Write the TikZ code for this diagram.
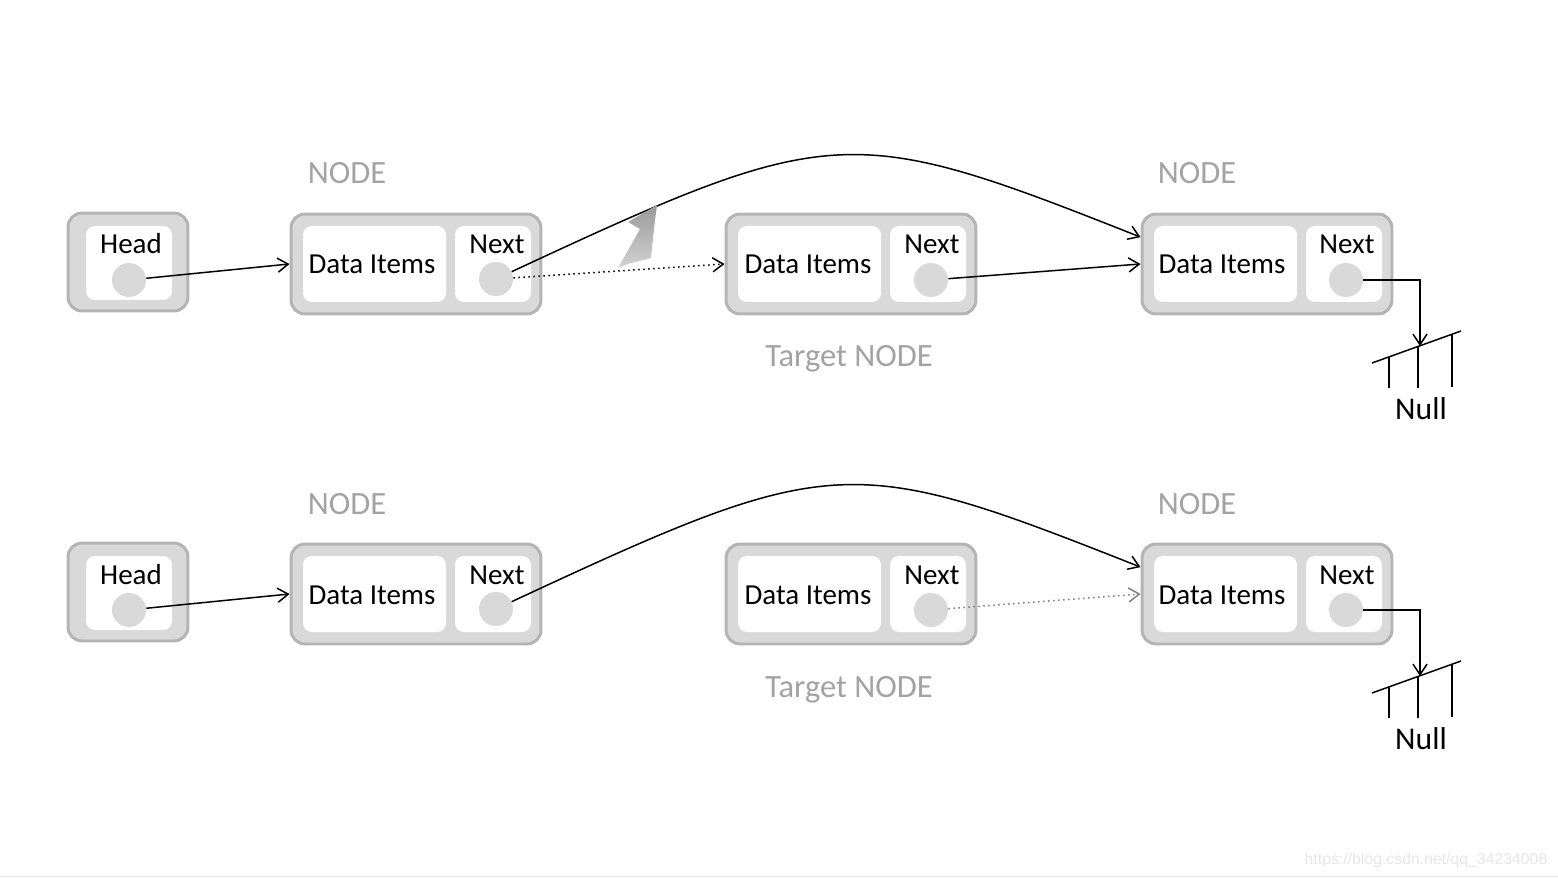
\documentclass[tikz,border=0pt]{standalone}
\usepackage{fontspec}
\setmainfont{Carlito}
\newfontfamily\wmfont{Liberation Sans}
\usetikzlibrary{arrows.meta}
\definecolor{boxfill}{HTML}{D9D9D9}
\definecolor{boxedge}{HTML}{B4B4B4}
\definecolor{labelgray}{HTML}{A3A3A3}
\definecolor{wmgray}{HTML}{E6E6E6}
\begin{document}
\begin{tikzpicture}[x=0.02cm,y=-0.02cm,
	outerbox/.style={draw=boxedge,fill=boxfill,line width=1.7pt,rounded corners=0.28cm,inner sep=0pt},
	listbox/.style={outerbox,minimum width=5cm,minimum height=2cm},
	headbox/.style={outerbox,minimum width=2.4cm,minimum height=1.96cm},
	cell/.style={fill=white,rounded corners=0.18cm},
	dot/.style={circle,fill=boxfill,minimum size=0.68cm,inner sep=0pt},
	lbl/.style={anchor=base,font=\fontsize{16.5}{20}\selectfont},
	tag/.style={anchor=base,text=labelgray,font=\fontsize{18.5}{22}\selectfont},
	link/.style={line width=0.85pt,-{Straight Barb[length=6pt,width=8pt]}}]
	\useasboundingbox (0,0) rectangle (1558,878);
	% row 1
	\node[headbox] (head1) at (128,262) {};
	\fill[cell] (86,226) rectangle (172,300);
	\node[lbl] at (131,254) {Head};
	\node[dot] (hdot1) at (129,280) {};
	\node[listbox] (node1) at (416,264) {};
	\fill[cell] (303,226) rectangle (446,302);
	\fill[cell] (455,226) rectangle (531,302);
	\node[lbl] at (372,274) {Data Items};
	\node[lbl] at (497,254) {Next};
	\node[dot] (ndot1) at (496,279) {};
	\node[listbox] (target1) at (851,264) {};
	\fill[cell] (738,226) rectangle (881,302);
	\fill[cell] (890,226) rectangle (966,302);
	\node[lbl] at (808,274) {Data Items};
	\node[lbl] at (932,254) {Next};
	\node[dot] (tdot1) at (931,280) {};
	\node[listbox] (after1) at (1267,264) {};
	\fill[cell] (1154,226) rectangle (1297,302);
	\fill[cell] (1306,226) rectangle (1382,302);
	\node[lbl] at (1222,274) {Data Items};
	\node[lbl] at (1347,254) {Next};
	\node[dot] (adot1) at (1346,280) {};
	\node[tag] at (347,184) {NODE};
	\node[tag] at (1197,184) {NODE};
	\node[tag] at (849,367) {Target NODE};
	\draw[link] (hdot1) -- (node1.west);
	\draw[link] (ndot1) .. controls (833,122) and (850,122) .. (after1.168);
	\draw[link,dotted] (ndot1) -- (target1.west);
	\draw[link] (tdot1) -- (after1.west);
	% gray swoosh
	\shade[top color=gray!80,bottom color=gray!35] (618,268) .. controls (627,252) and (634,240) .. (640,229)
		-- (628,222) -- (657,205) .. controls (654,228) .. (651,258) .. controls (640,261) and (628,263) .. (618,268);
	\coordinate (gnd1) at (1420,346);
	\draw[link] (adot1) -| (gnd1);
	\draw[line width=0.85pt] (1372,363) -- (1461,331);
	\draw[line width=0.85pt] (1389,357) -- (1389,388);
	\draw[line width=0.85pt] (1418,347) -- (1418,388);
	\draw[line width=0.85pt] (1452,335) -- (1452,387);
	\node[lbl,font=\fontsize{18}{22}\selectfont] at (1421,419) {Null};
	% row 2
	\node[headbox] (head2) at (128,592) {};
	\fill[cell] (86,556) rectangle (172,630);
	\node[lbl] at (131,584) {Head};
	\node[dot] (hdot2) at (129,610) {};
	\node[listbox] (node2) at (416,594) {};
	\fill[cell] (303,556) rectangle (446,632);
	\fill[cell] (455,556) rectangle (531,632);
	\node[lbl] at (372,604) {Data Items};
	\node[lbl] at (497,584) {Next};
	\node[dot] (ndot2) at (496,609) {};
	\node[listbox] (target2) at (851,594) {};
	\fill[cell] (738,556) rectangle (881,632);
	\fill[cell] (890,556) rectangle (966,632);
	\node[lbl] at (808,604) {Data Items};
	\node[lbl] at (932,584) {Next};
	\node[dot] (tdot2) at (931,610) {};
	\node[listbox] (after2) at (1267,594) {};
	\fill[cell] (1154,556) rectangle (1297,632);
	\fill[cell] (1306,556) rectangle (1382,632);
	\node[lbl] at (1222,604) {Data Items};
	\node[lbl] at (1347,584) {Next};
	\node[dot] (adot2) at (1346,610) {};
	\node[tag] at (347,514) {NODE};
	\node[tag] at (1197,514) {NODE};
	\node[tag] at (849,697) {Target NODE};
	\draw[link] (hdot2) -- (node2.west);
	\draw[link] (ndot2) .. controls (833,452) and (850,452) .. (after2.168);
	\draw[link,dotted,draw=gray] (tdot2) -- (after2.west);
	\coordinate (gnd2) at (1420,676);
	\draw[link] (adot2) -| (gnd2);
	\draw[line width=0.85pt] (1372,693) -- (1461,661);
	\draw[line width=0.85pt] (1389,687) -- (1389,718);
	\draw[line width=0.85pt] (1418,677) -- (1418,718);
	\draw[line width=0.85pt] (1452,665) -- (1452,717);
	\node[lbl,font=\fontsize{18}{22}\selectfont] at (1421,749) {Null};
	% watermark
	\node[text=wmgray,font=\wmfont\fontsize{9}{11}\selectfont] (mark) at (1426,860) {https://blog.csdn.net/qq\_34234008};
	\draw[wmgray,line width=0.5pt] (0,876) -- (1558,876);
\end{tikzpicture}
\end{document}
